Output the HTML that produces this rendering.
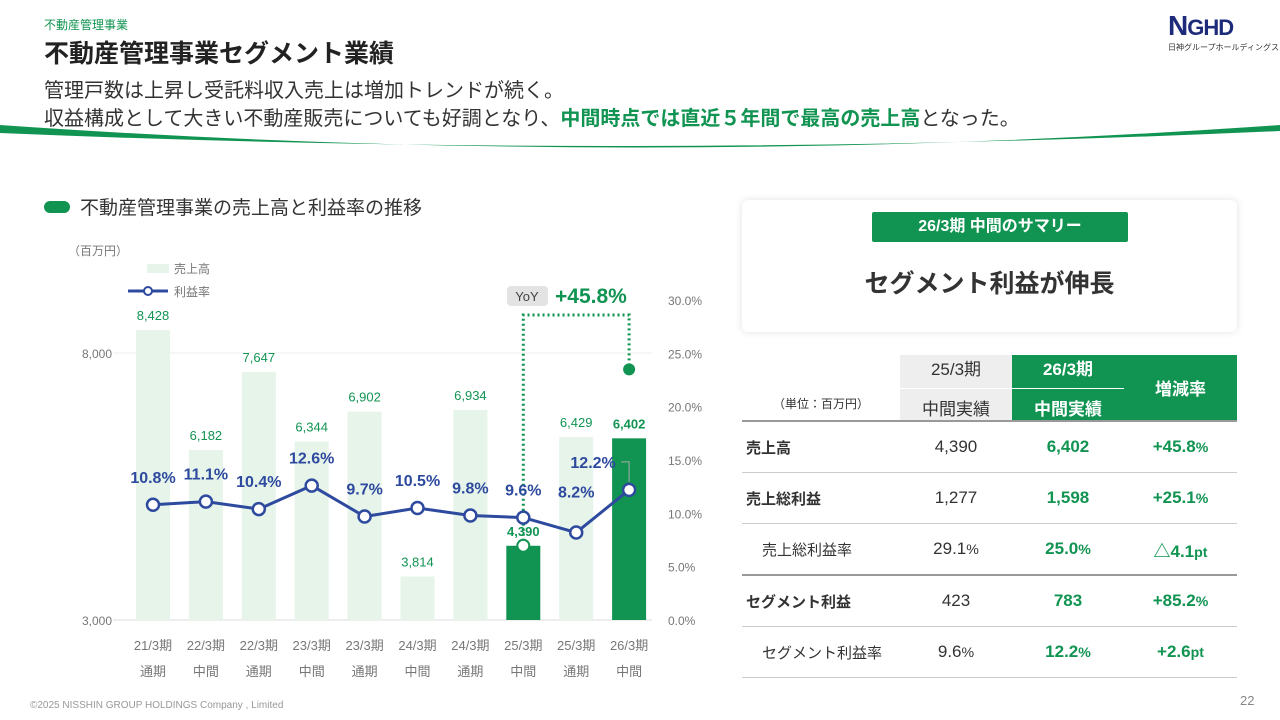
<!DOCTYPE html>
<html><head><meta charset="utf-8"><style>
body{margin:0;width:1280px;height:720px;background:#fff;font-family:"Liberation Sans","Noto Sans CJK JP",sans-serif;position:relative;overflow:hidden;color:#333}
.a{position:absolute;white-space:nowrap}
table{position:absolute;left:742px;top:355px;width:495px;border-collapse:collapse;font-size:17px}
td{height:50px;border-bottom:1px solid #ccc;text-align:center;padding:0}
.g{color:#119452;font-weight:bold}
</style></head><body>
<div class="a" style="left:44px;top:16px;font-size:12px;color:#119452">不動産管理事業</div>
<div class="a" style="left:44px;top:34px;font-size:25px;font-weight:bold;color:#222">不動産管理事業セグメント業績</div>
<div class="a" style="left:44px;top:74px;font-size:20px">管理戸数は上昇し受託料収入売上は増加トレンドが続く。</div>
<div class="a" style="left:44px;top:102px;font-size:20px">収益構成として大きい不動産販売についても好調となり、<b style="color:#119452">中間時点では直近５年間で最高の売上高</b>となった。</div>
<div class="a" style="left:1168px;top:10px;font-size:28px;font-weight:bold;color:#1d2b7a;letter-spacing:-1px">N<span style="font-size:22px">GHD</span><div style="font-size:8px;color:#333;font-weight:normal;letter-spacing:0">日神グループホールディングス</div></div>
<svg class="a" style="left:0;top:118px" width="1280" height="40"><path d="M0,7 Q640,52 1280,7 L1280,13 Q640,42 0,15Z" fill="#119452"/></svg>
<div class="a" style="left:44px;top:201px;width:26px;height:12px;border-radius:6px;background:#119452"></div>
<div class="a" style="left:80px;top:193px;font-size:19px">不動産管理事業の売上高と利益率の推移</div>
<svg class="a" style="left:0;top:0" width="740" height="720" id="ch"></svg>
<div class="a" style="left:742px;top:200px;width:495px;height:132px;box-shadow:0 0 8px rgba(0,0,0,.12);border-radius:6px"></div>
<div class="a" style="left:872px;top:212px;width:256px;height:30px;background:#119452;color:#fff;font-size:16px;font-weight:bold;text-align:center;line-height:30px;border-radius:2px">26/3期 中間のサマリー</div>
<div class="a" style="left:742px;top:264px;width:495px;text-align:center;font-size:25px;font-weight:bold;color:#333">セグメント利益が伸長</div>
<table>
<tr style="height:65px"><td style="width:158px;font-size:12px;vertical-align:bottom;padding-bottom:8px;border-bottom:2px solid #999">（単位：百万円）</td>
<td style="width:112px;background:#eee;border-bottom:2px solid #999">25/3期<div style="border-top:1px solid #fff;margin-top:8px;padding-top:6px">中間実績</div></td>
<td style="width:112px;background:#119452;color:#fff;font-weight:bold;border-bottom:2px solid #999">26/3期<div style="border-top:1px solid #fff;margin-top:8px;padding-top:6px">中間実績</div></td>
<td style="background:#119452;color:#fff;font-weight:bold;border-bottom:2px solid #999">増減率</td></tr>
<tr><td style="text-align:left;padding-left:4px;font-weight:bold;font-size:15px">売上高</td><td>4,390</td><td class="g">6,402</td><td class="g">+45.8<small>%</small></td></tr>
<tr><td style="text-align:left;padding-left:4px;font-weight:bold;font-size:15px">売上総利益</td><td>1,277</td><td class="g">1,598</td><td class="g">+25.1<small>%</small></td></tr>
<tr><td style="text-align:left;padding-left:20px;font-size:15px;border-bottom:2px solid #999">売上総利益率</td><td style="border-bottom:2px solid #999">29.1<small>%</small></td><td class="g" style="border-bottom:2px solid #999">25.0<small>%</small></td><td class="g" style="border-bottom:2px solid #999">△4.1<small>pt</small></td></tr>
<tr><td style="text-align:left;padding-left:4px;font-weight:bold;font-size:15px">セグメント利益</td><td>423</td><td class="g">783</td><td class="g">+85.2<small>%</small></td></tr>
<tr><td style="text-align:left;padding-left:20px;font-size:15px">セグメント利益率</td><td>9.6<small>%</small></td><td class="g">12.2<small>%</small></td><td class="g">+2.6<small>pt</small></td></tr>
</table>
<div class="a" style="left:30px;top:700px;font-size:10px;color:#999">©2025 NISSHIN GROUP HOLDINGS Company , Limited</div>
<div class="a" style="left:1240px;top:693px;font-size:13px;color:#888">22</div>
<script>
const years=["21/3期","22/3期","22/3期","23/3期","23/3期","24/3期","24/3期","25/3期","25/3期","26/3期"];
const periods=["通期","中間","通期","中間","通期","中間","通期","中間","通期","中間"];
const sales=[8428,6182,7647,6344,6902,3814,6934,4390,6429,6402];
const margin=[10.8,11.1,10.4,12.6,9.7,10.5,9.8,9.6,8.2,12.2];
const highlight=[0,0,0,0,0,0,0,1,0,1];
const leftTicks=[3000,8000];
const rightTicks=[0,5,10,15,20,25,30];
const NS="http://www.w3.org/2000/svg",svg=document.getElementById('ch');
const y=v=>620-(v-3000)*267/5000, yr=p=>620-p*320/30, x=i=>153+i*52.9;
function el(t,a,txt){const e=document.createElementNS(NS,t);for(const k in a)e.setAttribute(k,a[k]);if(txt!=null)e.textContent=txt;svg.appendChild(e);return e;}
let e;
e=el('line',{x1:113,x2:652,y1:353,y2:353,stroke:'#eee'});
e=el('line',{x1:113,x2:652,y1:620,y2:620,stroke:'#ddd'});
leftTicks.forEach(t=>{e=el('text',{x:112,y:y(t)+5,'text-anchor':'end','font-size':12,fill:'#777'},t.toLocaleString());});
rightTicks.forEach(t=>{e=el('text',{x:668,y:yr(t)+5,'font-size':12,fill:'#777'},t.toFixed(1)+'%');});
e=el('text',{x:68,y:255,'font-size':12,fill:'#777'},'（百万円）');
e=el('rect',{x:147,y:264,width:22,height:9,fill:'#e6f4ea'});
e=el('text',{x:174,y:273,'font-size':12,fill:'#777'},'売上高');
e=el('line',{x1:128,x2:168,y1:291,y2:291,stroke:'#2e4a9e','stroke-width':3});
e=el('circle',{cx:148,cy:291,r:4,fill:'#fff',stroke:'#2e4a9e','stroke-width':2});
e=el('text',{x:174,y:296,'font-size':12,fill:'#777'},'利益率');
sales.forEach((v,i)=>{
 e=el('rect',{x:x(i)-17,y:y(v),width:34,height:620-y(v),fill:highlight[i]?'#119452':'#e6f4ea'});
 
 e=el('text',{x:x(i),y:y(v)-10,'text-anchor':'middle','font-size':13,fill:'#119452','font-weight':highlight[i]?'bold':'normal'},v.toLocaleString());
 
 e=el('text',{x:x(i),y:650,'text-anchor':'middle','font-size':13,fill:'#777'},years[i]);
 
 e=el('text',{x:x(i),y:676,'text-anchor':'middle','font-size':13,fill:'#777'},periods[i]);
 
});
e=el('path',{d:`M${x(7)},${y(sales[7])} V315 H${x(9)} V${y(sales[9])-70}`,fill:'none',stroke:'#119452','stroke-width':3,'stroke-dasharray':'2 3'});

e=el('circle',{cx:x(9),cy:y(sales[9])-69,r:6,fill:'#119452'});
e=el('circle',{cx:x(7),cy:y(sales[7]),r:6,fill:'#fff',stroke:'#119452','stroke-width':2});
e=el('rect',{x:507,y:286,width:41,height:20,rx:4,fill:'#e3e3e3'});
e=el('text',{x:527,y:301,'text-anchor':'middle','font-size':13,fill:'#444'},'YoY');
e=el('text',{x:555,y:303,'font-size':21,'font-weight':'bold',fill:'#119452'},'+45.8%');
e=el('polyline',{points:margin.map((m,i)=>x(i)+','+yr(m)).join(' '),fill:'none',stroke:'#2e4a9e','stroke-width':3});

e=el('path',{d:`M${x(9)-8},${yr(margin[9])-28} H${x(9)} V${yr(margin[9])-8}`,fill:'none',stroke:'#aaa','stroke-width':1});

margin.forEach((m,i)=>{
 e=el('circle',{cx:x(i),cy:yr(m),r:6,fill:'#fff',stroke:'#2e4a9e','stroke-width':2.5});
 
 const dy=(i==8)?-35:-22;
 e=el('text',{x:x(i)-(i==9?36:0),y:yr(m)+dy,'text-anchor':'middle','font-size':16,'font-weight':'bold',fill:'#2e4a9e'},m.toFixed(1)+'%');
 
});
</script>
</body></html>
